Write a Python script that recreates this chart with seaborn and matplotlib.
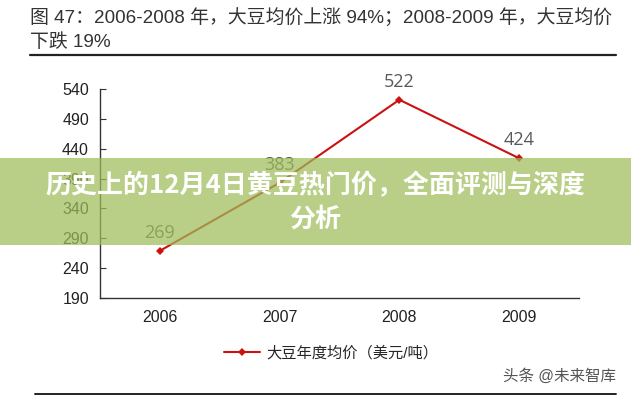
import matplotlib
matplotlib.use("Agg")
import matplotlib.pyplot as plt
import seaborn as sns
import pandas as pd
from matplotlib.lines import Line2D
from matplotlib.patches import Rectangle

years = ["2006", "2007", "2008", "2009"]
prices = [269, 383, 522, 424]
yticks = [190, 240, 290, 340, 390, 440, 490, 540]
series_name = "大豆年度均价（美元/吨）"
title_1 = "图 47：2006-2008 年，大豆均价上涨 94%；2008-2009 年，大豆均价"
title_2 = "下跌 19%"
source = "头条 @未来智库"
banner_1 = "历史上的12月4日黄豆热门价，全面评测与深度"
banner_2 = "分析"

sns.set_style("white")
FAM = ["Liberation Sans", "Noto Sans CJK SC", "DejaVu Sans"]
plt.rcParams["font.family"] = FAM

df = pd.DataFrame({"year": years, "price": prices})

fig = plt.figure(figsize=(6.31, 4.0), dpi=100)
ax = fig.add_axes([100/631, 1-298/400, 479/631, 209/400])

LC = "#cc1111"
sns.lineplot(data=df, x="year", y="price", ax=ax, color=LC, lw=1.5,
             marker="D", markersize=4, markeredgewidth=0, label=series_name,
             sort=False)

ax.set_xlim(-0.5, 3.5)
ax.set_ylim(190, 540)
ax.set_yticks(yticks)
ax.set_xlabel("")
ax.set_ylabel("")
for s in ["top", "right"]:
    ax.spines[s].set_visible(False)
for s in ["left", "bottom"]:
    ax.spines[s].set_color("#333333")
    ax.spines[s].set_linewidth(1.0)
ax.tick_params(axis="y", direction="in", length=4, color="#333333",
               labelsize=11.5, labelcolor="#222222", pad=8, left=True)
ax.tick_params(axis="x", length=0, labelsize=11.5, labelcolor="#222222", pad=9)

for i, v in enumerate(prices):
    ax.annotate(str(v), (i, v), xytext=(0, 13), textcoords="offset points",
                ha="center", va="center", fontsize=13, color="#595959",
                family=["Open Sans", "DejaVu Sans"])

ax.get_legend().remove()
h = Line2D([], [], color=LC, lw=1.5, marker="D", markersize=4,
           markeredgewidth=0)
fig.legend([h], [series_name], loc="center left",
           bbox_to_anchor=(210/631, 1-353/400), frameon=False,
           handlelength=2.4, handletextpad=0.4,
           prop={"family": FAM, "size": 11})

# title
fig.text(30/631, 1-17/400, title_1, fontsize=13.6, color="#333333",
         va="center", ha="left")
fig.text(30/631, 1-42/400, title_2, fontsize=13.6, color="#333333",
         va="center", ha="left")
fig.add_artist(Line2D([30/631, 616/631], [1-55/400, 1-55/400],
                      color="#222222", lw=1.6))
# source
fig.text(616/631, 1-376/400, source, fontsize=11.2, color="#555555",
         va="center", ha="right")
fig.add_artist(Line2D([35/631, 616/631], [1-394/400, 1-394/400],
                      color="#222222", lw=1.4))

# banner overlay
fig.patches.append(Rectangle((0, 1-245/400), 1, 87/400,
                             transform=fig.transFigure,
                             facecolor=(0.62, 0.74, 0.35), alpha=0.72,
                             edgecolor="none", zorder=10))
fig.text(0.5, 1-186/400, banner_1, fontsize=18.7, fontweight="bold",
         color="white", ha="center", va="center", zorder=11,
         family=["Noto Sans CJK SC", "DejaVu Sans"])
fig.text(0.5, 1-219/400, banner_2, fontsize=18.7, fontweight="bold",
         color="white", ha="center", va="center", zorder=11,
         family=["Noto Sans CJK SC", "DejaVu Sans"])

fig.savefig("out.png", dpi=100)
